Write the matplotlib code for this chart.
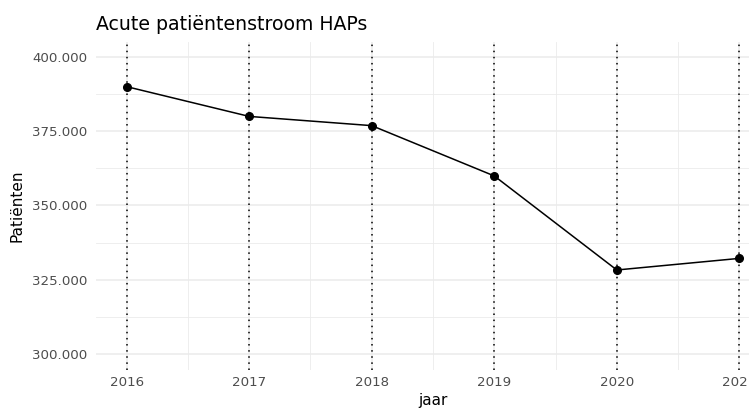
import matplotlib.pyplot as plt
from matplotlib.ticker import FuncFormatter, MultipleLocator

years = [2016, 2017, 2018, 2019, 2020, 2021]
patients = [389900, 379900, 376800, 359900, 328300, 332200]
y_ticks = [300000, 325000, 350000, 375000, 400000]

fig = plt.figure(figsize=(7.49, 4.08), dpi=100)
ax = fig.add_axes([96 / 749, 1 - 370 / 408, 674 / 749, 328 / 408])

# grid like ggplot theme_minimal
ax.set_xlim(years[0] - 0.25, years[-1] + 0.25)
ax.set_ylim(294700, 404900)
ax.set_yticks(y_ticks)
ax.set_xticks(years)
ax.yaxis.set_minor_locator(MultipleLocator(12500))
ax.xaxis.set_minor_locator(MultipleLocator(0.5))
ax.grid(True, which='major', color='#EBEBEB', linewidth=1.1)
ax.grid(True, which='minor', color='#EBEBEB', linewidth=0.6)
ax.set_axisbelow(True)
for s in ax.spines.values():
    s.set_visible(False)
ax.tick_params(which='both', length=0)
ax.tick_params(axis='x', pad=4.5, labelsize=9.6, labelcolor='#4D4D4D')
ax.tick_params(axis='y', pad=6, labelsize=9.6, labelcolor='#4D4D4D')
ax.yaxis.set_major_formatter(FuncFormatter(lambda v, p: f"{int(v):,}".replace(",", ".")))

# dotted year lines
for yr in years:
    ax.axvline(yr, color='black', linestyle=(0, (1, 3)), linewidth=1.1, zorder=2)

ax.plot(years, patients, color='black', linewidth=1.1, zorder=3)
ax.plot(years, patients, 'o', color='black', markersize=5.5, zorder=4)

fig.text(96 / 749, 1 - 30 / 408, 'Acute patiëntenstroom HAPs', fontsize=13.6, va='baseline', ha='left')
fig.text(433 / 749, 1 - 405 / 408, 'jaar', fontsize=11, va='baseline', ha='center')
fig.text(17 / 749, 1 - 206 / 408, 'Patiënten', fontsize=11, va='center', ha='center', rotation=90)

fig.savefig('out.png', dpi=100)
